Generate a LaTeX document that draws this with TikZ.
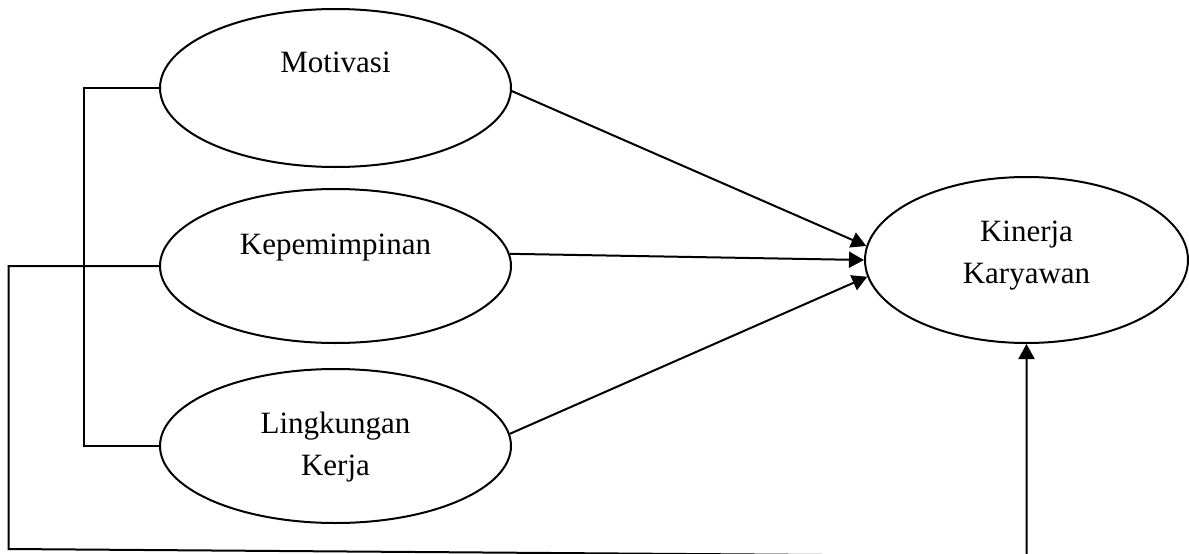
\documentclass[tikz,border=0pt]{standalone}
\usepackage{fontspec}
\setmainfont{Liberation Serif}
\usetikzlibrary{shapes.geometric,arrows.meta}
\tikzset{
  latent/.style={draw, ellipse, line width=2pt, inner sep=0pt},
  conn/.style={line width=2pt},
  arr/.style={conn, -{Triangle[length=15pt,width=16pt]}},
  lab/.style={font=\fontsize{31}{42}\selectfont, align=center, inner sep=0pt}
}
\begin{document}
\begin{tikzpicture}[x=1pt,y=-1pt]
\useasboundingbox (0,0) rectangle (1189,554);
\node[latent, minimum width=351pt, minimum height=158pt,
      label={[lab,yshift=25.6pt]center:Motivasi}] (mot) at (335.5,88) {};
\node[latent, minimum width=351pt, minimum height=154pt,
      label={[lab,yshift=18.2pt]center:Kepemimpinan}] (kep) at (335.5,266) {};
\node[latent, minimum width=351pt, minimum height=154pt,
      label={[lab,yshift=-0.8pt]center:Lingkungan\\Kerja}] (lin) at (335.5,446) {};
\node[latent, minimum width=323pt, minimum height=166pt,
      label={[lab,yshift=4.2pt]center:Kinerja\\Karyawan}] (kin) at (1026.5,260) {};
\coordinate (c1) at (8.5,549);
\coordinate (c2) at (1026.5,556.5);
% bracket
\draw[conn] (mot.west) -- ++(-75,0) |- (lin.west);
% arrows to Kinerja
\draw[arr] (mot.-1.3) -- (kin.175);
\draw[arr] (kep.4.6) -- (kin.180.7);
\draw[arr] (lin.4.2) -- (kin.186);
% outer loop
\draw[arr] (kep.west) -| (c1) -- (c2) -- (kin.south);
\end{tikzpicture}
\end{document}
